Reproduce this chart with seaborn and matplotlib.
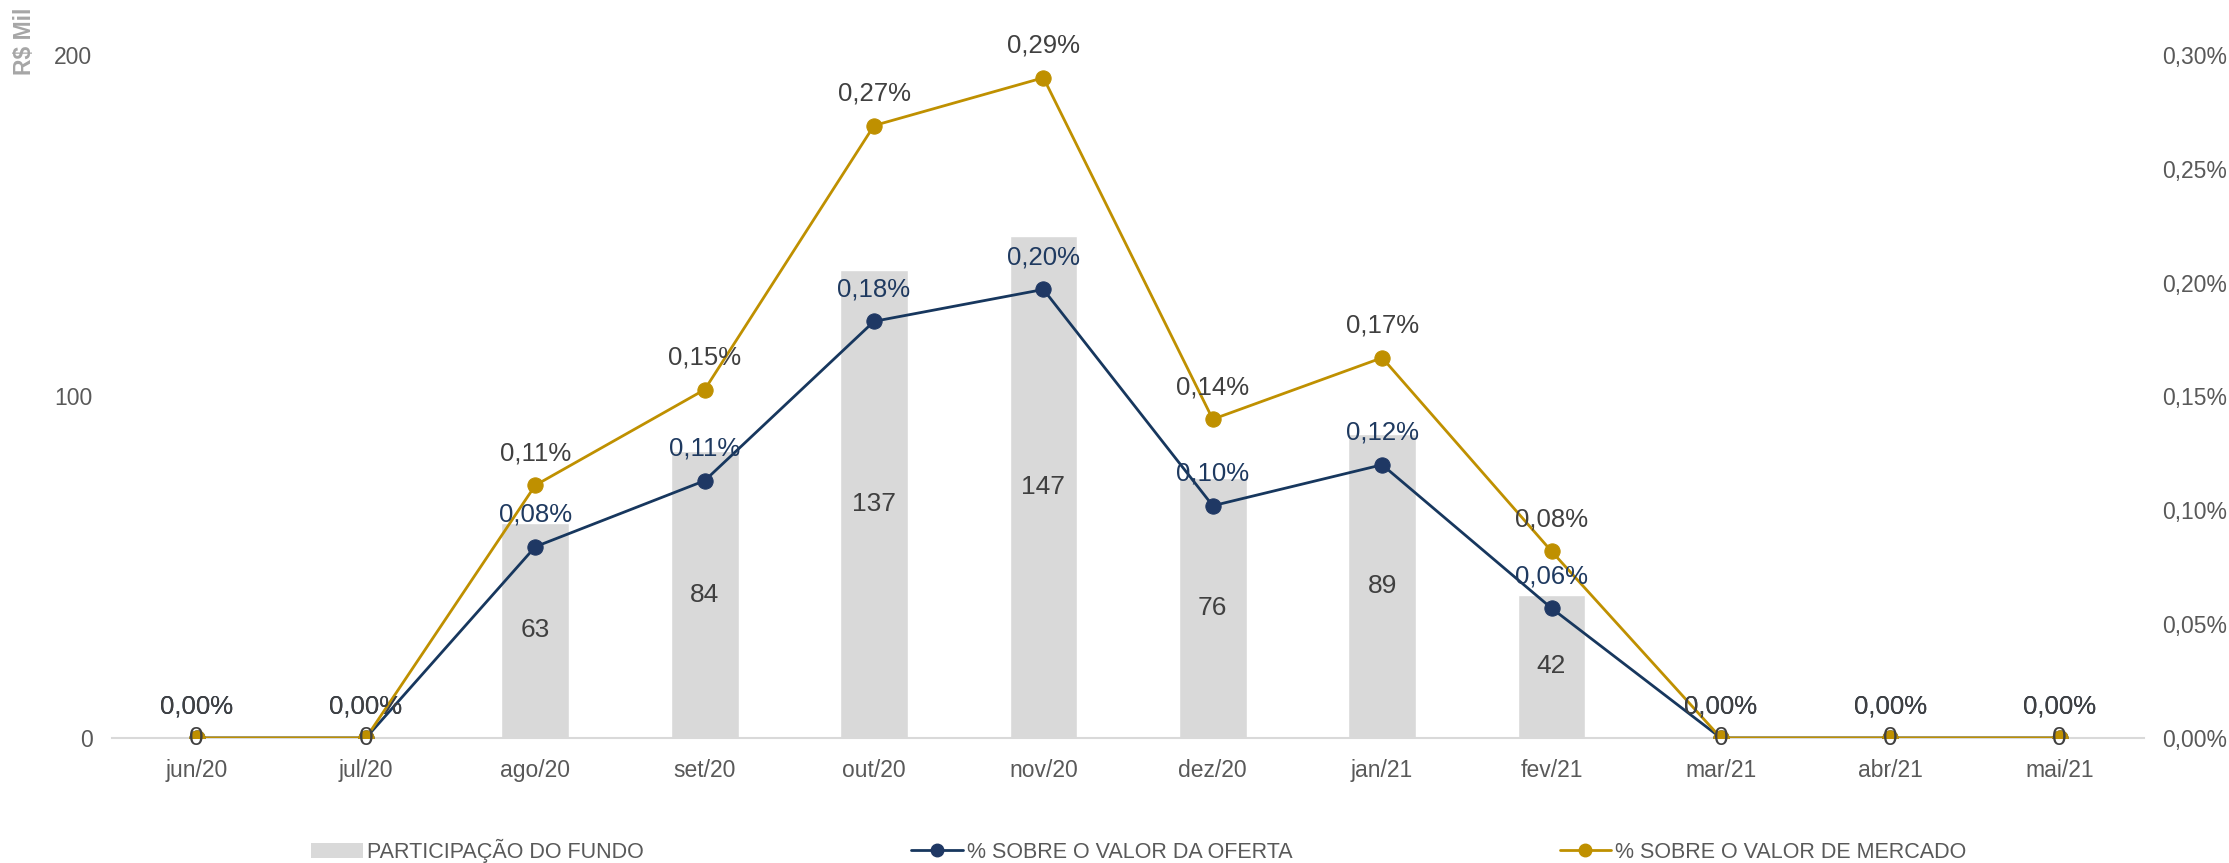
import numpy as np
import matplotlib
matplotlib.use('Agg')
import matplotlib.pyplot as plt
import seaborn as sns
from matplotlib.lines import Line2D
from matplotlib.patches import Patch

months = ['jun/20', 'jul/20', 'ago/20', 'set/20', 'out/20', 'nov/20',
          'dez/20', 'jan/21', 'fev/21', 'mar/21', 'abr/21', 'mai/21']
fund = [0, 0, 63, 84, 137, 147, 76, 89, 42, 0, 0, 0]
pct_offer = [0, 0, 0.084, 0.113, 0.183, 0.197, 0.102, 0.120, 0.057, 0, 0, 0]
pct_market = [0, 0, 0.111, 0.153, 0.269, 0.290, 0.140, 0.167, 0.082, 0, 0, 0]

sns.set_theme(style='white')
plt.rcParams['font.family'] = ['Liberation Sans', 'DejaVu Sans']

bar_color = '#D9D9D9'
navy = '#1F3864'
gold = '#BF9000'
text_gray = '#595959'
label_gray = '#404040'


def fmt_pct(v):
    return f"{v:.2f}%".replace('.', ',')


fig = plt.figure(figsize=(22.29, 8.63), dpi=100)
ax = fig.add_axes([0.0502, 0.1449, 0.9118, 0.7914])

sns.barplot(x=months, y=fund, color=bar_color, saturation=1, width=0.4, ax=ax)
ax.set_xlim(-0.5, 11.5)
ax.set_ylim(0, 200)
ax.set_yticks([0, 100, 200])
ax.set_ylabel('')
for s in ['top', 'left', 'right']:
    ax.spines[s].set_visible(False)
ax.spines['bottom'].set_color(bar_color)
ax.spines['bottom'].set_linewidth(1.5)
ax.set_xticks(np.arange(-0.5, 12, 1), minor=True)
ax.tick_params(axis='x', which='major', length=0, pad=15, labelsize=16.5, labelcolor=text_gray)
ax.tick_params(axis='x', which='minor', length=8, width=1.5, color=bar_color, direction='out')
ax.tick_params(axis='y', length=0, pad=14, labelsize=16.5, labelcolor=text_gray)

ax2 = ax.twinx()
x = np.arange(len(months))
sns.lineplot(x=x, y=pct_offer, ax=ax2, color='#17375E', linewidth=2,
             marker='o', markersize=11, markerfacecolor=navy, markeredgecolor=navy)
sns.lineplot(x=x, y=pct_market, ax=ax2, color=gold, linewidth=2,
             marker='o', markersize=11, markerfacecolor=gold, markeredgecolor=gold)
ax2.set_ylim(0, 0.30)
ax2.set_yticks(np.arange(0, 0.301, 0.05))
ax2.set_yticklabels([fmt_pct(v) for v in np.arange(0, 0.301, 0.05)])
ax2.tick_params(axis='y', length=0, pad=13, labelsize=16.5, labelcolor=text_gray)
for s in ax2.spines.values():
    s.set_visible(False)
ax2.set_xlim(-0.5, 11.5)

# bar labels (on top axes so they sit above markers)
for i, v in enumerate(fund):
    ax2.text(i, v / 2, str(v), transform=ax.transData, ha='center', va='center',
             fontsize=19, color=label_gray, zorder=10)

# line labels
for i, v in enumerate(pct_offer):
    ax2.annotate(fmt_pct(v), (i, v), xytext=(0, 23), textcoords='offset points',
                 ha='center', va='center', fontsize=18.5, color='#1F3A60', zorder=11)
for i, v in enumerate(pct_market):
    ax2.annotate(fmt_pct(v), (i, v), xytext=(0, 23), textcoords='offset points',
                 ha='center', va='center', fontsize=18.5, color=label_gray, zorder=12)

fig.text(0.0112, 0.991, 'R$ Mil', rotation=90, ha='center', va='top',
         fontsize=16.5, fontweight='bold', color='#A6A6A6')

handles = [
    Patch(facecolor=bar_color, edgecolor='none', label='PARTICIPAÇÃO DO FUNDO'),
    Line2D([0], [0], color='#17375E', linewidth=2, marker='o', markersize=9,
           markerfacecolor=navy, markeredgecolor=navy, label='% SOBRE O VALOR DA OFERTA'),
    Line2D([0], [0], color=gold, linewidth=2, marker='o', markersize=9,
           markerfacecolor=gold, markeredgecolor=gold, label='% SOBRE O VALOR DE MERCADO'),
]
leg = fig.legend(handles=handles, loc='center', bbox_to_anchor=(0.511, 0.014), ncol=3,
                 frameon=False, fontsize=15.5, columnspacing=12.4, handlelength=2.4,
                 handletextpad=0.2, labelcolor=text_gray)

fig.savefig('out.png', dpi=100)
